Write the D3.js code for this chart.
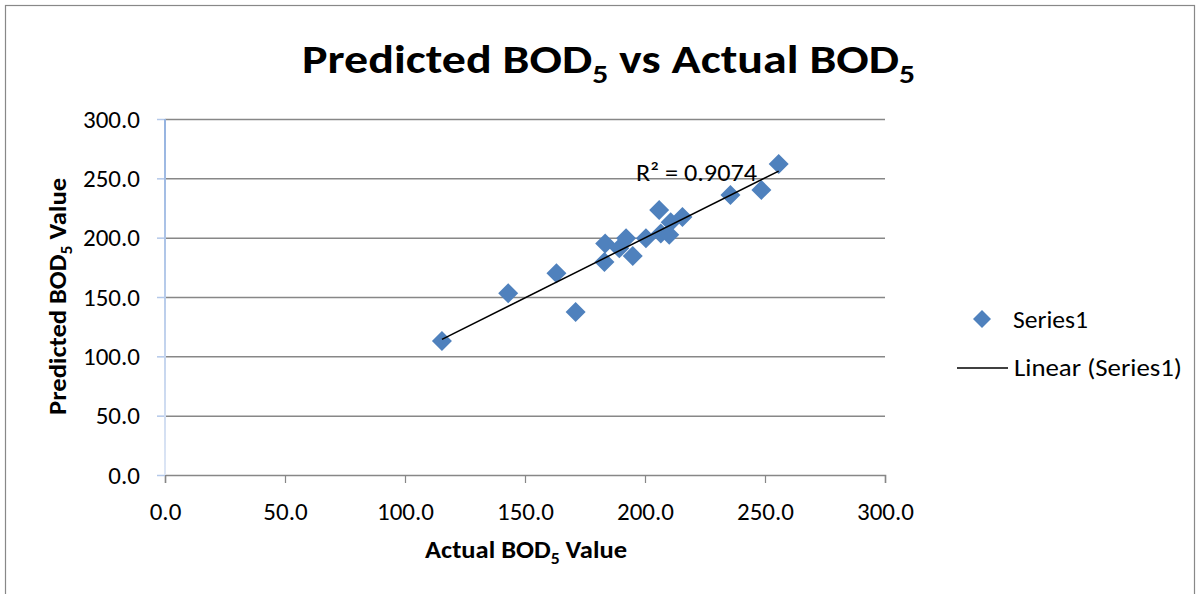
<!DOCTYPE html>
<html><head><meta charset="utf-8">
<script src="https://cdn.jsdelivr.net/npm/d3@7"></script>
<style>
body{margin:0;background:#fff;}
svg{display:block;font-family:Carlito,Calibri,Lato,sans-serif;}
</style></head>
<body><svg id="c" width="1200" height="594"></svg>
<script>
const actualValues = [115.4,143.0,163.1,171.1,183.1,183.4,189.3,192.1,194.9,200.4,205.9,206.6,210.1,210.7,215.6,235.6,248.5,255.7];
const predictedValues = [112.9,153.1,170.0,137.4,179.5,195.0,191.0,199.5,184.5,199.5,223.3,203.5,202.5,213.0,217.5,235.9,240.2,262.1];
const xTicks = [0,50,100,150,200,250,300];
const yTicks = [0,50,100,150,200,250,300];
const rSquaredLabel = "R² = 0.9074";
const seriesName = "Series1";
const trendName = "Linear (Series1)";

const FONT = "Carlito,Calibri,Lato,sans-serif";
const svg = d3.select("#c");
const x = d3.scaleLinear().domain([0,300]).range([165,885]);
const y = d3.scaleLinear().domain([0,300]).range([475,119]);

// outer border
svg.append("rect").attr("x",5.5).attr("y",5.5).attr("width",1189).attr("height",600)
  .attr("fill","none").attr("stroke","#888").attr("stroke-width",1.2);

// title
const title = svg.append("text").attr("x",608.5).attr("y",73).attr("text-anchor","middle")
  .attr("font-size",41).attr("font-weight","bold").attr("fill","#000")
  .attr("textLength",613).attr("lengthAdjust","spacingAndGlyphs");
title.append("tspan").text("Predicted BOD");
title.append("tspan").text("5").attr("font-size",27).attr("dy",10);
title.append("tspan").text(" vs Actual BOD").attr("dy",-10);
title.append("tspan").text("5").attr("font-size",27).attr("dy",10);

// gridlines
svg.append("g").selectAll("line").data(yTicks.filter(d=>d>0)).join("line")
  .attr("x1",x(0)).attr("x2",x(300)).attr("y1",d=>y(d)+0.5).attr("y2",d=>y(d)+0.5)
  .attr("stroke","#878787").attr("stroke-width",1.5);

// x axis
const xAxis = svg.append("g").attr("transform",`translate(0,${y(0)})`)
  .call(d3.axisBottom(x).tickValues(xTicks).tickFormat(d3.format(".1f")).tickSize(8).tickPadding(19));
xAxis.select(".domain").attr("stroke","#878787").attr("stroke-width",1.5);
xAxis.selectAll(".tick line").attr("stroke","#878787").attr("stroke-width",1.2);
xAxis.selectAll("text").attr("font-size",25).attr("font-family",FONT).attr("fill","#000");

// y axis
const grad = svg.append("defs").append("linearGradient").attr("id","yg").attr("x1",0).attr("y1",0).attr("x2",0).attr("y2",1);
grad.append("stop").attr("offset","0%").attr("stop-color","#95b3e0");
grad.append("stop").attr("offset","100%").attr("stop-color","#dde6f5");
const yAxis = svg.append("g").attr("transform",`translate(${x(0)},0)`)
  .call(d3.axisLeft(y).tickValues(yTicks).tickFormat(d3.format(".1f")).tickSize(8).tickPadding(17));
yAxis.selectAll(".tick line").attr("stroke","#b4c8e8").attr("stroke-width",1.5);
yAxis.selectAll("text").attr("font-size",25).attr("font-family",FONT).attr("fill","#000");
yAxis.select(".domain").remove();
svg.append("rect").attr("x",x(0)-1).attr("y",y(300)).attr("width",2).attr("height",y(0)-y(300)).attr("fill","url(#yg)");

// axis titles
const xt = svg.append("text").attr("x",526).attr("y",558).attr("text-anchor","middle")
  .attr("font-size",24).attr("font-weight","bold")
  .attr("textLength",202).attr("lengthAdjust","spacingAndGlyphs");
xt.append("tspan").text("Actual BOD");
xt.append("tspan").text("5").attr("font-size",16).attr("dy",6);
xt.append("tspan").text(" Value").attr("dy",-6);

const yt = svg.append("text").attr("transform",`translate(66,296.5) rotate(-90)`).attr("text-anchor","middle")
  .attr("font-size",24).attr("font-weight","bold")
  .attr("textLength",237).attr("lengthAdjust","spacingAndGlyphs");
yt.append("tspan").text("Predicted BOD");
yt.append("tspan").text("5").attr("font-size",16).attr("dy",6);
yt.append("tspan").text(" Value").attr("dy",-6);

// points
const data = actualValues.map((a,i)=>({a, p:predictedValues[i]}));
const diamond = r => `M0,${-r}L${r},0L0,${r}L${-r},0Z`;
svg.append("g").selectAll("path").data(data).join("path")
  .attr("d",diamond(10)).attr("transform",d=>`translate(${x(d.a)},${y(d.p)})`)
  .attr("fill","#4f81bd");

// trendline (least squares)
const mx = d3.mean(actualValues), my = d3.mean(predictedValues);
const slope = d3.sum(data,d=>(d.a-mx)*(d.p-my))/d3.sum(data,d=>(d.a-mx)**2);
const icpt = my - slope*mx;
const x0 = d3.min(actualValues), x1 = d3.max(actualValues);
svg.append("line").attr("x1",x(x0)).attr("y1",y(icpt+slope*x0)).attr("x2",x(x1)).attr("y2",y(icpt+slope*x1))
  .attr("stroke","#000").attr("stroke-width",1.5);

svg.append("text").attr("x",636).attr("y",181).attr("font-size",25)
  .attr("textLength",121).attr("lengthAdjust","spacingAndGlyphs").text(rSquaredLabel);

// legend
svg.append("path").attr("d",diamond(9)).attr("transform","translate(982,319)").attr("fill","#4f81bd");
svg.append("text").attr("x",1013).attr("y",328).attr("font-size",25)
  .attr("textLength",75).attr("lengthAdjust","spacingAndGlyphs").text(seriesName);
svg.append("line").attr("x1",957).attr("x2",1008).attr("y1",368).attr("y2",368).attr("stroke","#000").attr("stroke-width",1.5);
svg.append("text").attr("x",1014).attr("y",376).attr("font-size",25)
  .attr("textLength",168).attr("lengthAdjust","spacingAndGlyphs").text(trendName);
</script></body></html>
